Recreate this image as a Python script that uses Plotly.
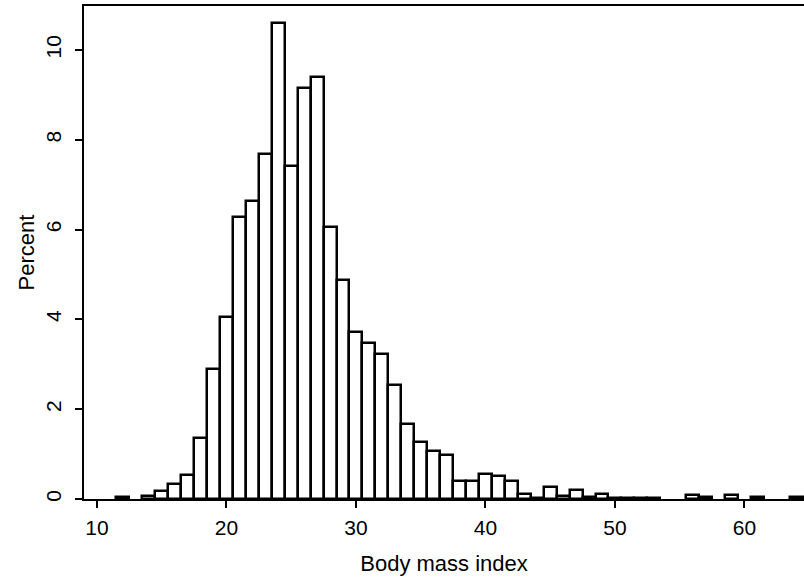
import plotly.graph_objects as go

# BMI bin centres (bin width 1) and percent of observations
bmi_bins = list(range(12, 65))
percent = [
    0.05, 0.00, 0.06, 0.17, 0.33, 0.53, 1.35, 2.90, 4.06, 6.29,   # 12-21
    6.63, 7.68, 10.61, 7.41, 9.15, 9.39, 6.06, 4.88, 3.72, 3.48,  # 22-31
    3.22, 2.55, 1.67, 1.27, 1.08, 0.98, 0.40, 0.40, 0.56, 0.51,   # 32-41
    0.41, 0.12, 0.03, 0.27, 0.06, 0.21, 0.04, 0.12, 0.03, 0.03,   # 42-51
    0.03, 0.03, 0.00, 0.00, 0.10, 0.05, 0.00, 0.10, 0.00, 0.05,   # 52-61
    0.00, 0.00, 0.05,                                             # 62-64
]
x_ticks = [10, 20, 30, 40, 50, 60]
y_ticks = [0, 2, 4, 6, 8, 10]

xs = [b for b, p in zip(bmi_bins, percent) if p > 0]
ys = [p for p in percent if p > 0]

FONT = "Liberation Sans, Arial, Helvetica, sans-serif"

fig = go.Figure(go.Bar(
    x=xs, y=ys, width=1,
    marker=dict(color="white", line=dict(color="black", width=2.5)),
    hoverinfo="x+y",
))

fig.update_layout(
    width=804, height=577,
    margin=dict(l=84, r=0, t=6, b=78),
    paper_bgcolor="white", plot_bgcolor="white",
    showlegend=False, bargap=0,
    font=dict(family=FONT, size=21, color="black"),
)
fig.update_xaxes(
    range=[9.0, 64.6], tickvals=x_ticks,
    showgrid=False, zeroline=False,
    showline=True, linecolor="black", linewidth=2, mirror=True,
    ticks="outside", ticklen=7, tickwidth=1.5, tickcolor="black",
    tickfont=dict(size=21), ticklabelstandoff=2,
    title=dict(text="Body mass index", font=dict(size=22), standoff=17),
)
fig.update_yaxes(
    range=[0, 10.98], tickvals=y_ticks, tickangle=-90,
    showgrid=False, zeroline=False,
    showline=True, linecolor="black", linewidth=2,
    ticks="outside", ticklen=7, tickwidth=1.5, tickcolor="black",
    tickfont=dict(size=21), ticklabelstandoff=6,
    title=dict(text="Percent", font=dict(size=22), standoff=1),
)

fig.write_html(
    "out.html",
    config={"displayModeBar": False},
    post_script="document.body.style.margin='0px';document.body.style.overflow='hidden';",
)
